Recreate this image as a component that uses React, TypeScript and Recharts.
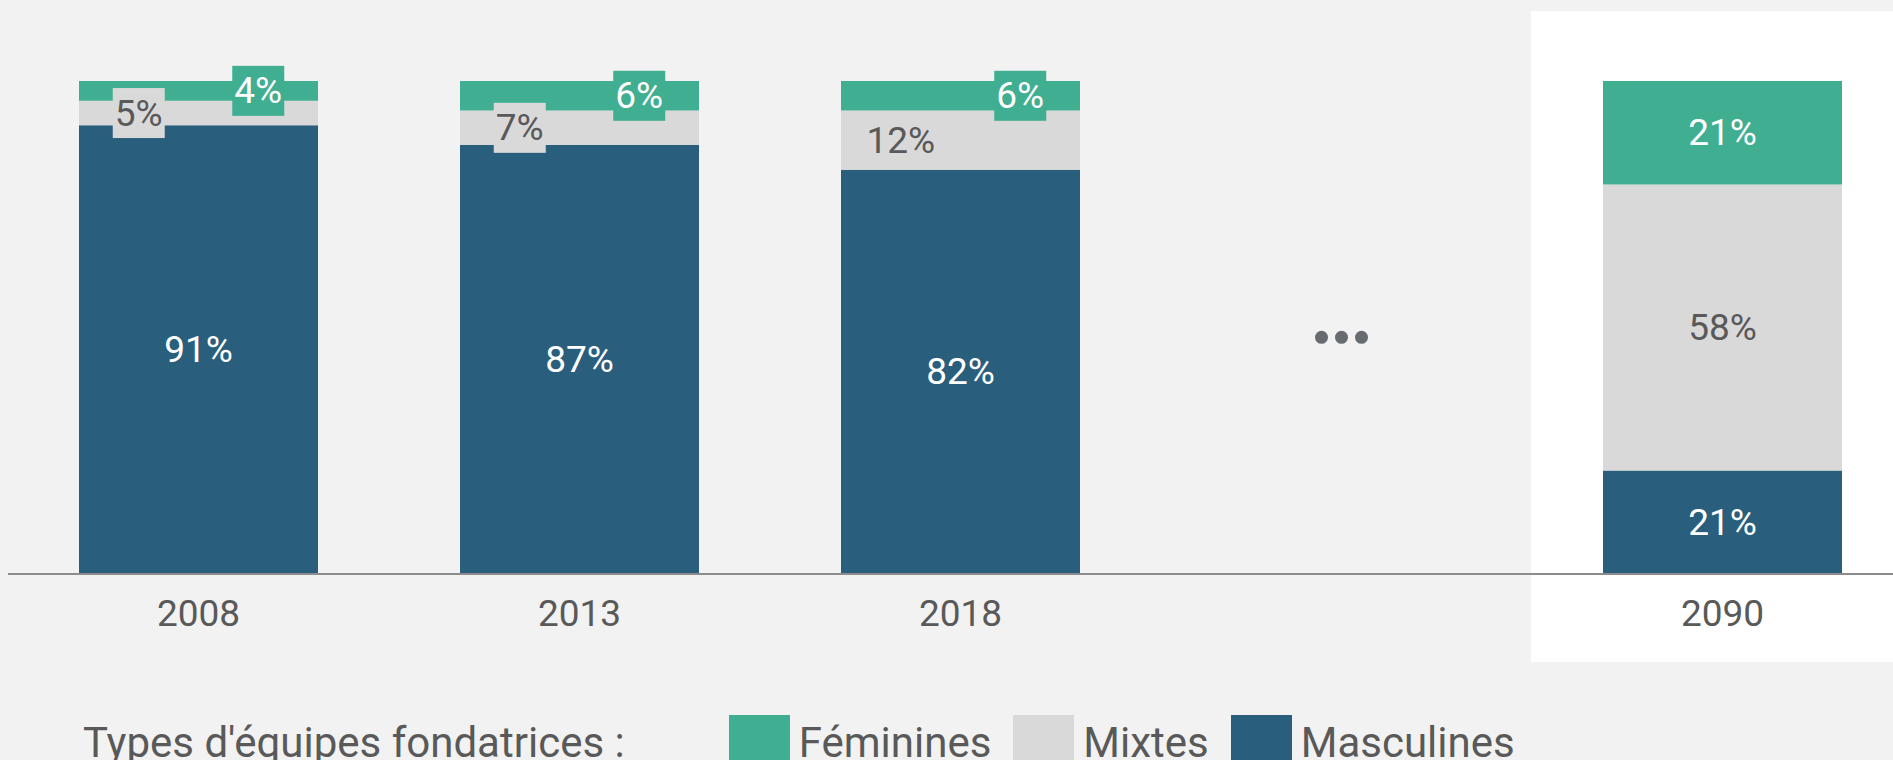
import React from "react";
import { BarChart, Bar, XAxis, YAxis, LabelList, ReferenceDot } from "recharts";

const years = ["2008", "2013", "2018", "…", "2090"];
const feminines = [4, 6, 6, null, 21];
const mixtes = [5, 7, 12, null, 58];
const masculines = [91, 87, 82, null, 21];

const legendTitle = "Types d'équipes fondatrices :";

const series = [
  { key: "masculines", name: "Masculines", color: "#295e7d", text: "#ffffff", side: 0 },
  { key: "mixtes", name: "Mixtes", color: "#d9d9d9", text: "#595959", side: 0.25 },
  { key: "feminines", name: "Féminines", color: "#40ae91", text: "#ffffff", side: 0.75 },
];

const data = years.map((year, i) => ({
  year,
  masculines: masculines[i],
  mixtes: mixtes[i],
  feminines: feminines[i],
}));

const FONT = "Roboto, 'Open Sans', sans-serif";
const GREY_TEXT = "#595959";

// small segments get their label pushed to one side, on a box of the segment colour
const makeLabel = (fill: string, color: string, side: number) => (props: any) => {
  const { value } = props;
  if (value == null) return null;
  const x = Number(props.x);
  const y = Number(props.y);
  const width = Number(props.width);
  const height = Number(props.height);
  const text = `${value}%`;
  const small = side > 0 && height < 80;
  const cx = small ? x + width * side : x + width / 2;
  const cy = y + height / 2;
  const boxW = text.length * 26;
  return (
    <g>
      {small && (
        <rect x={cx - boxW / 2} y={cy - 25} width={boxW} height={50} fill={fill} />
      )}
      <text
        x={cx}
        y={cy}
        dy="0.34em"
        textAnchor="middle"
        fill={color}
        fontSize={37}
        fontFamily={FONT}
      >
        {text}
      </text>
    </g>
  );
};

const YearTick = (props: any) => {
  const { x, y, payload } = props;
  if (payload.value === "…") return null;
  return (
    <text x={x} y={y + 52} textAnchor="middle" fill={GREY_TEXT} fontSize={37} fontFamily={FONT}>
      {payload.value}
    </text>
  );
};

const Ellipsis = (props: any) => {
  const { cx, cy } = props;
  return (
    <g fill="#676b70">
      <circle cx={cx - 20} cy={cy} r={6.5} />
      <circle cx={cx} cy={cy} r={6.5} />
      <circle cx={cx + 20} cy={cy} r={6.5} />
    </g>
  );
};

export default function App() {
  const legendItems = [...series].reverse();
  return (
    <div
      style={{
        position: "fixed",
        left: 0,
        top: 0,
        width: 1893,
        height: 760,
        overflow: "hidden",
        background: "#f2f2f2",
        fontFamily: FONT,
      }}
    >
      <div
        style={{ position: "absolute", left: 1531, top: 11, width: 362, height: 651, background: "#ffffff" }}
      />
      <div style={{ position: "absolute", left: 0, top: 0 }}>
        <BarChart
          width={1913}
          height={660}
          data={data}
          margin={{ top: 81, right: 0, bottom: 26, left: 8 }}
        >
          <XAxis
            dataKey="year"
            height={60}
            tickLine={false}
            tickSize={0}
            tickMargin={0}
            axisLine={{ stroke: "#8c8c8c", strokeWidth: 2 }}
            tick={<YearTick />}
            interval={0}
          />
          <YAxis hide domain={[0, 100]} />
          {series.map((s) => (
            <Bar
              key={s.key}
              dataKey={s.key}
              name={s.name}
              stackId="a"
              fill={s.color}
              barSize={239}
              isAnimationActive={false}
            >
              <LabelList dataKey={s.key} content={makeLabel(s.color, s.text, s.side)} />
            </Bar>
          ))}
          <ReferenceDot x="…" y={48} r={6} shape={<Ellipsis />} />
        </BarChart>
      </div>
      <div
        style={{
          position: "absolute",
          left: 83,
          top: 715,
          display: "flex",
          alignItems: "flex-start",
          color: GREY_TEXT,
          fontSize: 42,
          lineHeight: "42px",
          whiteSpace: "nowrap",
        }}
      >
        <span style={{ marginTop: 7, marginRight: 104 }}>{legendTitle}</span>
        {legendItems.map((s) => (
          <div key={s.key} style={{ display: "flex", alignItems: "flex-start", marginRight: 22 }}>
            <div style={{ width: 61, height: 61, background: s.color, marginRight: 9 }} />
            <span style={{ marginTop: 7 }}>{s.name}</span>
          </div>
        ))}
      </div>
    </div>
  );
}
